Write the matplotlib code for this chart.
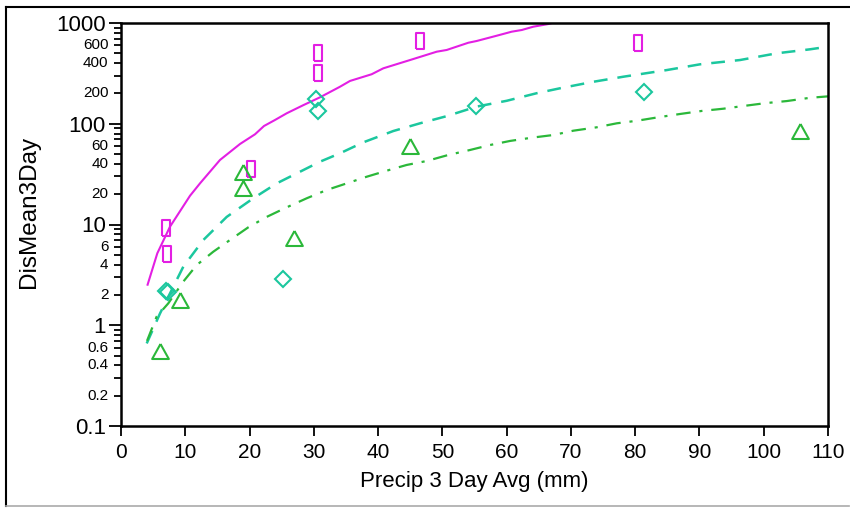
import matplotlib
matplotlib.use("Agg")
import matplotlib.pyplot as plt
from matplotlib.ticker import FixedLocator, NullFormatter
from matplotlib.lines import Line2D

plt.rcParams['font.family'] = ['Liberation Sans', 'DejaVu Sans']

# ---- data ----
rect_x = [7.0, 7.2, 20.2, 30.7, 30.7, 46.5, 80.4]
rect_y = [9.2, 5.1, 35.6, 504, 319, 662, 633]

diam_x = [7.0, 7.3, 25.2, 30.3, 30.6, 55.2, 81.4]
diam_y = [2.2, 2.15, 2.88, 176, 134, 150, 206]

tri_x = [6.1, 9.2, 19.0, 19.0, 26.9, 45.0, 105.6]
tri_y = [0.555, 1.78, 33, 23, 7.3, 60, 85]

mag_x = [4.09, 5.65, 7.62, 10.74, 12.29, 15.40, 18.52, 20.85, 22.25, 23.96, 25.78,
         28.37, 30.96, 34.07, 35.63, 39.0, 40.81, 44.97, 49.12, 50.68, 54.04, 55.34,
         58.46, 60.79, 62.35, 64.15, 66.49, 68.0]
mag_y = [2.47, 5.18, 9.51, 19.3, 25.6, 43.7, 63.0, 78.6, 95.0, 109, 127,
         153, 183, 233, 266, 310, 355, 429, 519, 540, 637, 663,
         748, 820, 852, 919, 977, 1040]

teal_x = [4.0, 6.07, 9.69, 12.81, 16.45, 20.58, 24.23, 27.85, 30.96, 34.07, 37.70,
          42.37, 46.52, 50.68, 55.34, 60.01, 64.68, 68.31, 73.49, 78.16, 84.91,
          90.09, 96.31, 102.0, 107.2, 110.0]
teal_y = [0.66, 1.31, 3.81, 7.02, 11.9, 18.2, 25.6, 33.4, 42.0, 50.9, 65.4,
          84.7, 101, 119, 148, 169, 201, 225, 261, 293, 341,
          389, 429, 500, 548, 582]

green_x = [4.05, 5.55, 7.36, 9.69, 11.78, 14.36, 16.96, 19.81, 22.67, 25.78, 28.89,
           32.0, 35.12, 38.23, 41.34, 44.45, 47.57, 50.93, 54.30, 57.41, 60.53,
           63.90, 67.26, 70.37, 74.01, 77.13, 80.24, 83.60, 86.98, 90.35, 93.71,
           96.83, 100.2, 103.6, 107.2, 110.0]
green_y = [0.70, 1.22, 1.65, 2.71, 3.96, 5.37, 7.02, 9.38, 11.9, 14.8, 18.2,
           22.0, 25.6, 29.8, 34.2, 39.0, 42.7, 49.0, 54.9, 61.5, 67.5,
           72.7, 77.3, 85.3, 92.2, 101, 107, 116, 125, 134, 141,
           150, 160, 168, 181, 187]

x_ticks = [0, 10, 20, 30, 40, 50, 60, 70, 80, 90, 100, 110]
y_major = [0.1, 1, 10, 100, 1000]
y_major_labels = ['0.1', '1', '10', '100', '1000']
y_minor_labeled = [0.2, 0.4, 0.6, 2, 4, 6, 20, 40, 60, 200, 400, 600]

MAG = '#E31FE3'
TEAL = '#1BC79E'
GREEN = '#2BB83A'

fig = plt.figure(figsize=(8.5, 5.08), dpi=100)
ax = fig.add_axes([121/850, 82/508, 707/850, 403/508])

ax.set_yscale('log')
ax.set_xlim(0, 110)
ax.set_ylim(0.1, 1000)

ax.plot(mag_x, mag_y, color=MAG, lw=1.5, solid_capstyle='butt')
ax.plot(teal_x, teal_y, color=TEAL, lw=1.8, dashes=(5.5, 4.0))
ax.plot(green_x, green_y, color=GREEN, lw=1.6, dashes=(6.5, 4.0, 1.4, 4.0))

rect_marker = [(-0.55, -1), (0.55, -1), (0.55, 1), (-0.55, 1), (-0.55, -1)]
tri_marker = [(0, 0.9), (-1, -0.9), (1, -0.9), (0, 0.9)]
ax.plot(rect_x, rect_y, ls='none', marker=rect_marker, ms=11, mfc='none',
        mec=MAG, mew=1.5)
ax.plot(diam_x, diam_y, ls='none', marker='D', ms=8.2, mfc='none',
        mec=TEAL, mew=1.5)
ax.plot(tri_x, tri_y, ls='none', marker=tri_marker, ms=12, mfc='none',
        mec=GREEN, mew=1.5)

# ticks
ax.set_xticks(x_ticks)
ax.set_xticklabels([str(v) for v in x_ticks], fontsize=15)
ax.tick_params(axis='x', direction='out', length=7, width=1.3, pad=5)

ax.yaxis.set_major_locator(FixedLocator(y_major))
ax.set_yticklabels(y_major_labels, fontsize=16)
minors = []
for dec in [0.1, 1, 10, 100]:
    for m in range(2, 10):
        minors.append(dec * m)
ax.yaxis.set_minor_locator(FixedLocator(minors))
ax.yaxis.set_minor_formatter(NullFormatter())
ax.tick_params(axis='y', which='major', direction='out', length=9, width=1.3, pad=2)
ax.tick_params(axis='y', which='minor', direction='out', length=5, width=1.3)
for v in y_minor_labeled:
    lab = ('%g' % v)
    ax.annotate(lab, xy=(0, v), xycoords=('axes fraction', 'data'),
                xytext=(-9, 0), textcoords='offset points',
                ha='right', va='center', fontsize=11)

for s in ax.spines.values():
    s.set_linewidth(1.8)
    s.set_color('black')

ax.set_xlabel('Precip 3 Day Avg (mm)', fontsize=16, labelpad=7)
ax.set_ylabel('DisMean3Day', fontsize=17.5)
ax.yaxis.set_label_coords(-0.114, 0.53)

# outer border
fig.add_artist(Line2D([6/850, 6/850], [1 - 7/508, 1 - 506/508], transform=fig.transFigure,
                      color='black', lw=1.5))
fig.add_artist(Line2D([6/850, 849/850], [1 - 7/508, 1 - 7/508], transform=fig.transFigure,
                      color='black', lw=1.5))
fig.add_artist(Line2D([6/850, 849/850], [1 - 506/508, 1 - 506/508], transform=fig.transFigure,
                      color='#aaaaaa', lw=1.2))

fig.savefig('out.png', dpi=100)
